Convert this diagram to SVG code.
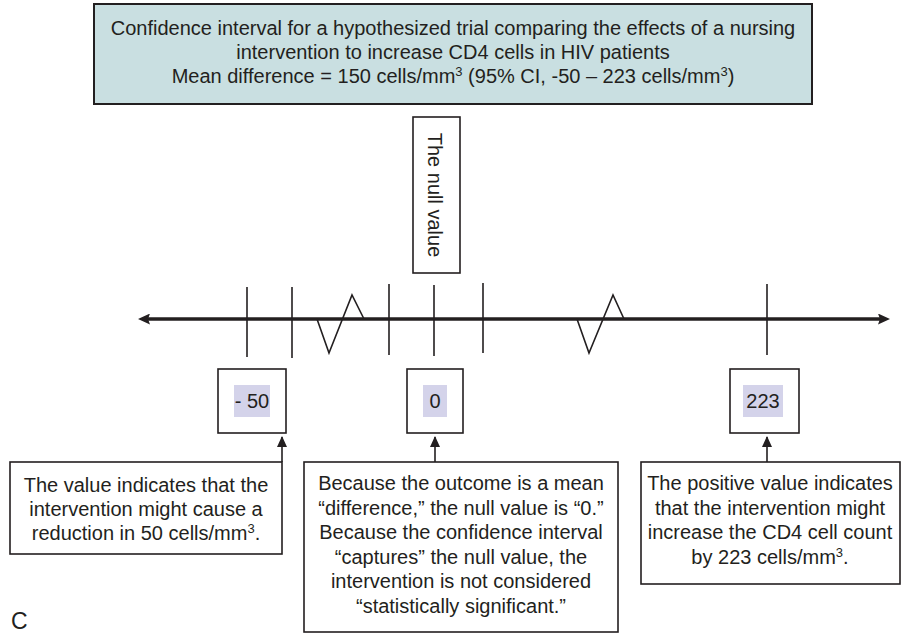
<svg xmlns="http://www.w3.org/2000/svg" width="913" height="634" viewBox="0 0 913 634">
  <style>
    text { font-family: "Liberation Sans", Arial, sans-serif; font-size: 20px; fill: #231f20; }
    .mid { text-anchor: middle; }
    .box { fill: #ffffff; stroke: #231f20; stroke-width: 1.6; }
    .title { fill: #c9dfe1; stroke: #231f20; stroke-width: 2; }
    .hl { fill: #d4d3ea; }
    .tick { stroke: #231f20; stroke-width: 1.6; fill: none; }
    .axis { stroke: #231f20; stroke-width: 3.5; fill: none; }
    .lead { stroke: #231f20; stroke-width: 1.6; fill: none; }
    .sup { font-size: 13px; }
  </style>
  <defs>
    <marker id="head" viewBox="0 0 11 10" refX="10" refY="5" markerWidth="11" markerHeight="10" markerUnits="userSpaceOnUse" orient="auto">
      <path d="M0,0 L11,5 L0,10 z" fill="#231f20"/>
    </marker>
    <marker id="axisHead" viewBox="0 0 12 11" refX="2" refY="5.5" markerWidth="12" markerHeight="11" markerUnits="userSpaceOnUse" orient="auto-start-reverse">
      <path d="M0,0 L12,5.5 L0,11 L2,5.5 z" fill="#231f20"/>
    </marker>
  </defs>

  <!-- Title panel -->
  <g id="title">
    <rect class="title" x="94" y="4" width="718" height="100"/>
    <text class="mid" x="453" y="35">Confidence interval for a hypothesized trial comparing the effects of a nursing</text>
    <text class="mid" x="453" y="59">intervention to increase CD4 cells in HIV patients</text>
    <text class="mid" x="453" y="83">Mean difference = 150 cells/mm<tspan class="sup" dy="-7">3</tspan><tspan dy="7"> (95% CI, -50 – 223 cells/mm</tspan><tspan class="sup" dy="-7">3</tspan><tspan dy="7">)</tspan></text>
  </g>

  <!-- Vertical label over the zero tick -->
  <g id="null-label">
    <rect class="box" x="413" y="117" width="47" height="156"/>
    <text class="mid" transform="translate(428 195) rotate(90)">The null value</text>
  </g>

  <!-- Number line with ticks and axis breaks -->
  <g id="axis">
    <line class="axis" x1="148" y1="319" x2="880" y2="319" marker-start="url(#axisHead)" marker-end="url(#axisHead)"/>
    <line class="tick" x1="247" y1="287" x2="247" y2="357"/>
    <line class="tick" x1="292" y1="287" x2="292" y2="358"/>
    <line class="tick" x1="389" y1="284" x2="389" y2="355"/>
    <line class="tick" x1="434" y1="285" x2="434" y2="356"/>
    <line class="tick" x1="483" y1="283" x2="483" y2="353"/>
    <line class="tick" x1="767" y1="284" x2="767" y2="355"/>
    <polyline class="tick" points="317,319 329,353 352,295 364,319"/>
    <polyline class="tick" points="577,319 589,353 613,295 624,319"/>
  </g>

  <!-- Value boxes -->
  <g id="value-neg50">
    <rect class="box" x="218" y="369" width="68" height="64"/>
    <rect class="hl" x="234" y="385" width="36" height="32"/>
    <text class="mid" x="252" y="408">- 50</text>
  </g>
  <g id="value-0">
    <rect class="box" x="407" y="369" width="56" height="64"/>
    <rect class="hl" x="423" y="385" width="24" height="32"/>
    <text class="mid" x="435" y="408">0</text>
  </g>
  <g id="value-223">
    <rect class="box" x="730" y="369" width="69" height="64"/>
    <rect class="hl" x="743" y="385" width="40" height="32"/>
    <text class="mid" x="763" y="408">223</text>
  </g>

  <!-- Explanation boxes -->
  <g id="note-neg50">
    <rect class="box" x="10" y="462" width="272" height="92"/>
    <text class="mid" x="146" y="492">The value indicates that the</text>
    <text class="mid" x="146" y="516">intervention might cause a</text>
    <text class="mid" x="146" y="540">reduction in 50 cells/mm<tspan class="sup" dy="-7">3</tspan><tspan dy="7">.</tspan></text>
  </g>
  <g id="note-0">
    <rect class="box" x="304" y="462" width="314" height="170"/>
    <text class="mid" x="461" y="490">Because the outcome is a mean</text>
    <text class="mid" x="461" y="514.5">“difference,” the null value is “0.”</text>
    <text class="mid" x="461" y="539">Because the confidence interval</text>
    <text class="mid" x="461" y="563.5">“captures” the null value, the</text>
    <text class="mid" x="461" y="588">intervention is not considered</text>
    <text class="mid" x="461" y="612.5">“statistically significant.”</text>
  </g>
  <g id="note-223">
    <rect class="box" x="641" y="462" width="259" height="122"/>
    <text class="mid" x="770" y="490">The positive value indicates</text>
    <text class="mid" x="770" y="514.5">that the intervention might</text>
    <text class="mid" x="770" y="539">increase the CD4 cell count</text>
    <text class="mid" x="770" y="563.5">by 223 cells/mm<tspan class="sup" dy="-7">3</tspan><tspan dy="7">.</tspan></text>
  </g>

  <!-- Leader arrows from notes to values -->
  <g id="connectors">
    <line class="lead" x1="282" y1="462" x2="282" y2="437" marker-end="url(#head)"/>
    <line class="lead" x1="435" y1="462" x2="435" y2="437" marker-end="url(#head)"/>
    <line class="lead" x1="767" y1="462" x2="767" y2="437" marker-end="url(#head)"/>
  </g>

  <text x="11" y="629" style="font-size:23px">C</text>
</svg>
